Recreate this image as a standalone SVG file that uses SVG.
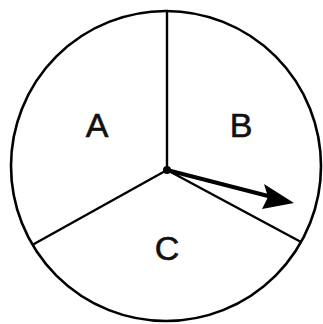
<svg xmlns="http://www.w3.org/2000/svg" width="323" height="324" viewBox="0 0 323 324">
<defs>
<style>
.edge{stroke:#000;stroke-width:2.4;fill:none;stroke-linecap:round}
.lbl{font-family:"Liberation Sans",Arial,sans-serif;font-size:34px;fill:#111;stroke:#111;stroke-width:0.6;text-anchor:middle}
</style>
</defs>
<rect width="323" height="324" fill="#fff"/>
<g id="spinner">
<circle cx="166" cy="166" r="155" fill="none" stroke="#000" stroke-width="2.6"/>
</g>
<g id="connectors">
<line class="edge" x1="167" y1="170" x2="167" y2="11"/>
<line class="edge" x1="167" y1="170" x2="34" y2="244"/>
<line class="edge" x1="167" y1="170" x2="301" y2="242"/>
<line x1="167" y1="170" x2="272" y2="197" stroke="#000" stroke-width="4"/>
<polygon points="294,203 264,184 268,197 262,209" fill="#000"/>
<circle cx="167" cy="170" r="4" fill="#000"/>
</g>
<g id="A"><text class="lbl" x="97" y="137">A</text></g>
<g id="B"><text class="lbl" x="241" y="137">B</text></g>
<g id="C"><text class="lbl" x="167" y="260">C</text></g>
</svg>
